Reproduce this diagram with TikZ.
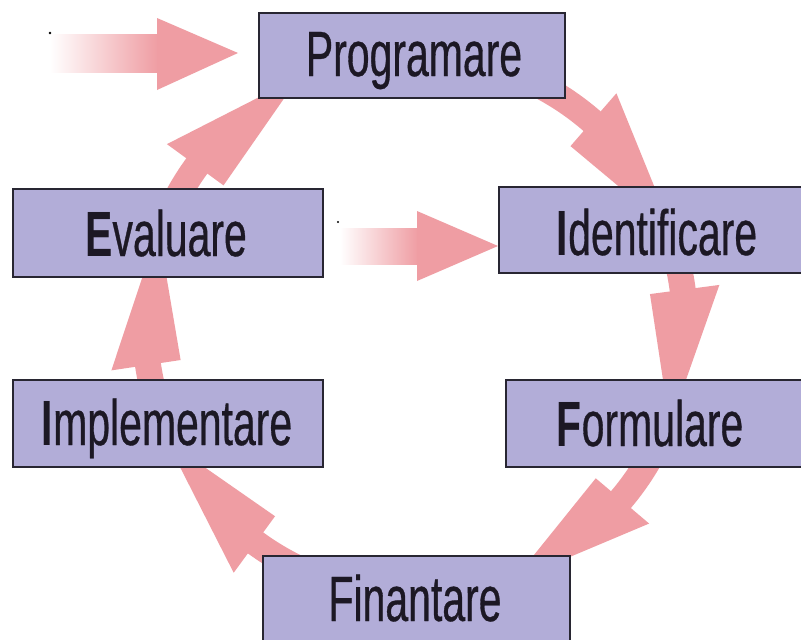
\documentclass[tikz,border=0pt]{standalone}
\usepackage{fontspec}
\setmainfont{Liberation Sans}[FakeStretch=0.64, UprightFeatures={FakeBold=0.5}]
\definecolor{arrowpink}{RGB}{239,157,163}
\definecolor{boxfill}{RGB}{178,173,216}
\definecolor{boxline}{RGB}{40,38,50}
\definecolor{textc}{RGB}{28,24,36}
\begin{document}
\begin{tikzpicture}[x=1pt,y=-1pt,
  shaft/.style={draw=arrowpink, line width=26pt, line cap=butt},
  headfill/.style={fill=arrowpink},
  box/.style={draw=boxline, line width=1.6pt, fill=boxfill, rectangle, inner sep=0pt},
  lbl/.style={inner sep=0pt, text height=46pt, text depth=0pt, font=\fontsize{64}{70}\selectfont, text=textc},
  fade/.style={left color=white, right color=arrowpink}
]
\useasboundingbox (0,0) rectangle (801,640);
\fill[white] (0,0) rectangle (801,640);
\coordinate (C) at (415,325);

% ring arrows
\begin{scope}[shift={(C)}]
  % Programare -> Identificare
  \draw[shaft] plot[domain=-75:-44, samples=30] (\x:270);
  \fill[headfill] (-49:237) -- (-49:307) -- (-20:274) -- cycle;
  % Identificare -> Formulare
  \draw[shaft] plot[domain=-18:-2.5, samples=20] (\x:270);
  \fill[headfill] (-7.5:237) -- (-7.5:307) -- (21.5:274) -- cycle;
  % Formulare -> Finantare
  \draw[shaft] plot[domain=15:45.3, samples=30] (\x:270);
  \fill[headfill] (40.3:237) -- (40.3:307) -- (69:274) -- cycle;
  % Finantare -> Implementare
  \draw[shaft] plot[domain=115:131.2, samples=20] (\x:270);
  \fill[headfill] (126.2:237) -- (126.2:307) -- (155:274) -- cycle;
  % Implementare -> Evaluare
  \draw[shaft] plot[domain=160:176.5, samples=20] (\x:270);
  \fill[headfill] (171.5:237) -- (171.5:307) -- (200.5:274) -- cycle;
  % Evaluare -> Programare
  \draw[shaft] plot[domain=205:221.1, samples=20] (\x:270);
  \fill[headfill] (216.1:237) -- (216.1:307) -- (245:274) -- cycle;
\end{scope}

% straight incoming arrows
\coordinate (a1) at (50,34);
\coordinate (a1end) at (158,72);
\shade[fade] (a1) rectangle (a1end);
\fill[headfill] (157,18) -- (238,53) -- (157,90) -- cycle;
\coordinate (a2) at (340,228);
\coordinate (a2end) at (418,264);
\shade[fade] (a2) rectangle (a2end);
\fill[headfill] (417,211) -- (498,246) -- (417,281) -- cycle;
\fill[black] (50,33) circle (1.3);
\fill[black] (338,222) circle (1.1);

% boxes
\node[box, minimum width=306pt, minimum height=85pt] (prog) at (412,55.5) {};
\node[box, minimum width=316pt, minimum height=86pt] (iden) at (657,230) {};
\node[box, minimum width=310pt, minimum height=88pt] (eval) at (168,233) {};
\node[box, minimum width=310pt, minimum height=87pt] (impl) at (168,423.5) {};
\node[box, minimum width=304pt, minimum height=87pt] (form) at (658,423.5) {};
\node[box, minimum width=307pt, minimum height=86pt] (fina) at (416.5,599) {};

% labels
\node[lbl] (tprog) at (414,53) {Programare};
\node[lbl] (tiden) at (657,232) {\textbf{I}dentificare};
\node[lbl] (teval) at (166,233) {\textbf{E}valuare};
\node[lbl] (timpl) at (167,422) {\textbf{I}mplementare};
\node[lbl] (tform) at (650,423) {\textbf{F}ormulare};
\node[lbl] (tfina) at (415,598) {Finantare};
\end{tikzpicture}
\end{document}
